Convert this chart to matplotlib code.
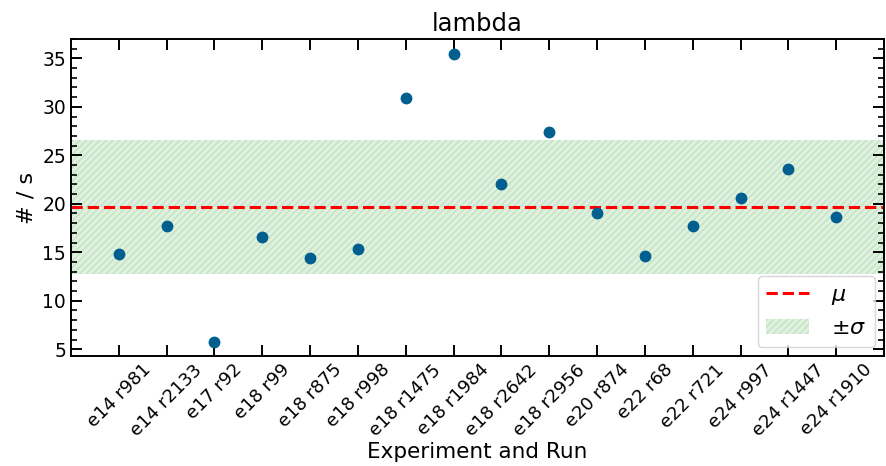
import numpy as np
import matplotlib
matplotlib.use("Agg")
import matplotlib.pyplot as plt
from matplotlib.ticker import MultipleLocator
from matplotlib.patches import Patch
from matplotlib.lines import Line2D

labels = ["e14 r981", "e14 r2133", "e17 r92", "e18 r99", "e18 r875", "e18 r998",
          "e18 r1475", "e18 r1984", "e18 r2642", "e18 r2956", "e20 r874", "e22 r68",
          "e22 r721", "e24 r997", "e24 r1447", "e24 r1910"]
values = [14.8, 17.7, 5.7, 16.55, 14.4, 15.3, 30.9, 35.5, 22.0, 27.4, 19.1, 14.6,
          17.7, 20.6, 23.6, 18.6]

mu = np.mean(values)
sigma = np.std(values)

fig = plt.figure(figsize=(8.86, 4.66), dpi=100)
ax = fig.add_axes([71/886, 110/466, 813/886, 317/466])

x = np.arange(len(labels))
ax.set_xlim(-1, len(labels))
ax.set_ylim(4.3, 37.0)

band_face = (0.55, 0.8, 0.55, 0.28)
band_edge = (0.55, 0.8, 0.55, 0.35)
ax.fill_between([-1, len(labels)], mu - sigma, mu + sigma, facecolor=band_face,
                edgecolor=band_edge, hatch="/////", linewidth=0, zorder=1)
ax.axhline(mu, color="red", ls="--", lw=2.2, zorder=2)
ax.plot(x, values, "o", color="#005f8f", markersize=7.5, zorder=3)

ax.set_xticks(x)
ax.set_xticklabels(labels, rotation=45, fontsize=13)
ax.yaxis.set_major_locator(MultipleLocator(5))
ax.yaxis.set_minor_locator(MultipleLocator(1))
ax.tick_params(axis="both", which="both", direction="in", top=True, right=True)
ax.tick_params(axis="both", which="major", length=8, width=1.4, labelsize=13.5)
ax.tick_params(axis="x", which="major", labelsize=13)
ax.tick_params(axis="y", which="minor", length=4, width=1.2)
ax.tick_params(axis="x", which="minor", bottom=False, top=False)
for s in ax.spines.values():
    s.set_linewidth(1.4)

ax.set_title("lambda", fontsize=17.5)
ax.set_xlabel("Experiment and Run", fontsize=15.5)
ax.xaxis.set_label_coords(0.5, -0.272)
ax.set_ylabel("# / s", fontsize=16)

handles = [Line2D([0], [0], color="red", ls="--", lw=2.2),
           Patch(facecolor=band_face, edgecolor=band_edge, hatch="/////", linewidth=0)]
ax.legend(handles, [r"$\mu$", r"$\pm\sigma$"], loc="lower right", fontsize=16,
          handlelength=1.9, handletextpad=1.0, borderaxespad=0.4)

fig.savefig("out.png", dpi=100)
